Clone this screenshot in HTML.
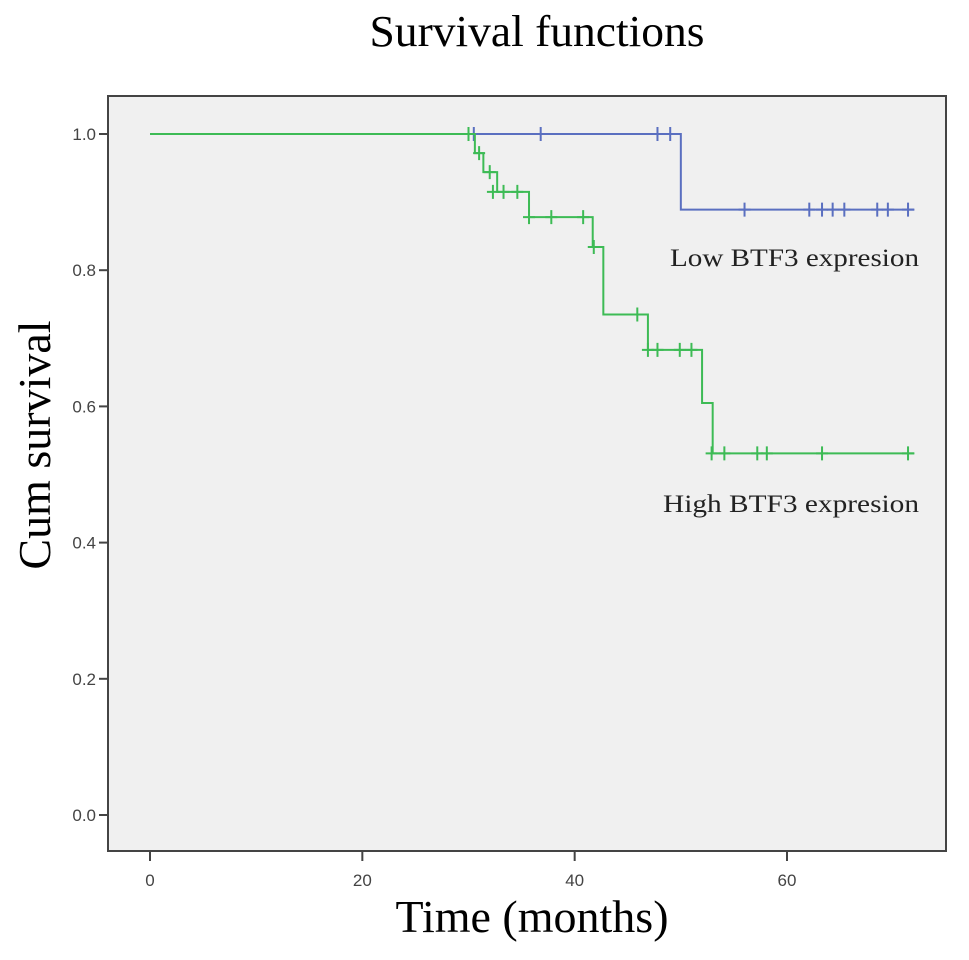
<!DOCTYPE html>
<html><head><meta charset="utf-8"><style>body{margin:0;background:#fff}svg{display:block}</style></head>
<body>
<svg id="chart" width="969" height="960" xmlns="http://www.w3.org/2000/svg">
<text x="537" y="46" text-anchor="middle" font-family="Liberation Serif, serif" font-size="44" textLength="335" lengthAdjust="spacingAndGlyphs">Survival functions</text>
<rect x="108" y="96" width="838" height="755" fill="#f0f0f0" stroke="#444" stroke-width="2"/>
<g id="axes"></g>
<g id="series"></g>
<text transform="translate(50,445) rotate(-90)" text-anchor="middle" font-family="Liberation Serif, serif" font-size="46">Cum survival</text>
<text x="532" y="932" text-anchor="middle" font-family="Liberation Serif, serif" font-size="46">Time (months)</text>
<text x="670" y="266" font-family="Liberation Serif, serif" font-size="25" fill="#222" textLength="249" lengthAdjust="spacingAndGlyphs">Low BTF3 expresion</text>
<text x="663" y="512" font-family="Liberation Serif, serif" font-size="25" fill="#222" textLength="256" lengthAdjust="spacingAndGlyphs">High BTF3 expresion</text>
</svg>
<script>
const xTicks=[0,20,40,60];
const yTicks=[0.0,0.2,0.4,0.6,0.8,1.0];
const lowTimes=[0,50];
const lowSurv=[1,0.889];
const lowEnd=72;
const lowCensorT=[30.5,36.8,47.8,49,56,62.1,63.3,64.3,65.4,68.5,69.5,71.4];
const lowCensorS=[1,1,1,1,0.889,0.889,0.889,0.889,0.889,0.889,0.889,0.889];
const highTimes=[0,30.6,31.4,32.7,35.7,41.7,42.7,46.9,52,53];
const highSurv=[1,0.972,0.944,0.915,0.878,0.834,0.735,0.683,0.605,0.531];
const highEnd=72;
const highCensorT=[30,31,32,32.3,33.3,34.6,35.7,37.8,40.8,41.8,45.9,46.9,47.8,49.9,51,52.9,54.1,57.2,58.1,63.3,71.4];
const highCensorS=[1,0.972,0.944,0.915,0.915,0.915,0.878,0.878,0.878,0.834,0.735,0.683,0.683,0.683,0.683,0.531,0.531,0.531,0.531,0.531,0.531];

const NS='http://www.w3.org/2000/svg';
const X=t=>150+t*(637/60);
const Y=s=>815-s*681;
function mk(tag,attrs,parent){const e=document.createElementNS(NS,tag);for(const k in attrs)e.setAttribute(k,attrs[k]);parent.appendChild(e);return e;}
const axes=document.getElementById('axes');
xTicks.forEach(t=>{
  const l=mk('line',{x1:X(t),x2:X(t),y1:851,y2:861,stroke:'#444','stroke-width':2},axes);
  
  
  const tx=mk('text',{x:X(t),y:886,'text-anchor':'middle','font-family':'Liberation Sans, sans-serif','font-size':17,fill:'#444'},axes);
  
  
  tx.textContent=t;
});
yTicks.forEach(s=>{
  const l=mk('line',{x1:99,x2:108,y1:Y(s),y2:Y(s),stroke:'#444','stroke-width':2},axes);
  
  
  const tx=mk('text',{x:96,y:Y(s)+6,'text-anchor':'end','font-family':'Liberation Sans, sans-serif','font-size':17,fill:'#444'},axes);
  
  
  tx.textContent=s.toFixed(1);
});
const series=document.getElementById('series');
function draw(times,surv,end,ct,cs,color,name){
  let d='M'+X(times[0])+','+Y(surv[0]);
  for(let i=1;i<times.length;i++){d+=' H'+X(times[i])+' V'+Y(surv[i]);}
  d+=' H'+X(end);
  const p=mk('path',{d:d,fill:'none',stroke:color,'stroke-width':2},series);
  
  
  ct.forEach((t,i)=>{
    const x=X(t),y=Y(cs[i]);
    const c=mk('path',{d:`M${x-6},${y} H${x+6} M${x},${y-7} V${y+7}`,stroke:color,'stroke-width':2,fill:'none'},series);
    
    
  });
}
draw(lowTimes,lowSurv,lowEnd,lowCensorT,lowCensorS,'#5a6fc0','low-btf3');
draw(highTimes,highSurv,highEnd,highCensorT,highCensorS,'#3dbb55','high-btf3');
</script>
</body></html>
